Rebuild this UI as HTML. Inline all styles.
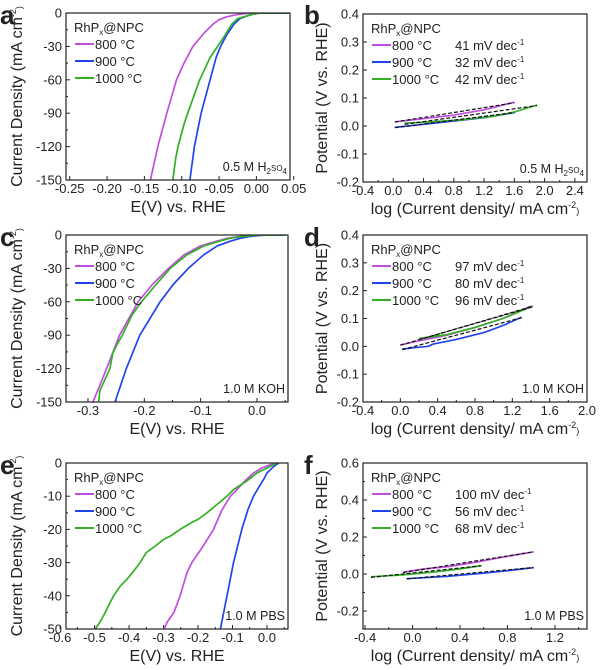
<!DOCTYPE html>
<html><head><meta charset="utf-8"><style>
html,body{margin:0;padding:0;background:#fff}
svg{display:block;font-family:"Liberation Sans",Arial,sans-serif}
</style></head><body>
<svg id="fig" width="600" height="670" viewBox="0 0 600 670" xmlns="http://www.w3.org/2000/svg"></svg>
<script>
// ---------- DATA ----------
const seriesNames = ['800 °C', '900 °C', '1000 °C'];
// Panel a: LSV in 0.5 M H2SO4 (E in V, j in mA cm-2)
const aE800 = [0.045, -0.005, -0.015, -0.022, -0.03, -0.04, -0.05, -0.058, -0.07, -0.085, -0.097, -0.107, -0.12, -0.132, -0.142];
const aJ800 = [0, 0, -0.5, -1, -2, -3.5, -6, -10, -18, -30, -45, -60, -90, -120, -150];
const aE900 = [0.045, 0.005, -0.004, -0.012, -0.022, -0.03, -0.04, -0.048, -0.054, -0.062, -0.074, -0.083, -0.089];
const aJ900 = [0, 0, -1, -2.5, -5, -10, -20, -30, -40, -60, -90, -120, -150];
const aE1000 = [0.045, 0.005, -0.004, -0.012, -0.025, -0.033, -0.042, -0.052, -0.062, -0.076, -0.092, -0.097, -0.105, -0.108, -0.112];
const aJ1000 = [0, 0, -1, -2.5, -5, -10, -20, -30, -40, -60, -90, -100, -120, -130, -150];
// Panel c: LSV in 1.0 M KOH
const cE800 = [0.05, 0.0, -0.02, -0.04, -0.053, -0.075, -0.101, -0.13, -0.157, -0.185, -0.211, -0.244, -0.267, -0.291];
const cJ800 = [0, 0, -0.7, -2, -3, -6, -10, -18, -30, -44, -60, -90, -120, -150];
const cE900 = [0.05, 0.015, 0.0, -0.015, -0.03, -0.05, -0.071, -0.095, -0.122, -0.148, -0.172, -0.208, -0.232, -0.252];
const cJ900 = [0, 0, -0.6, -1.5, -3, -6, -10, -18, -30, -44, -60, -90, -120, -150];
const cE1000 = [0.05, 0.005, -0.02, -0.035, -0.048, -0.07, -0.095, -0.125, -0.154, -0.18, -0.205, -0.222, -0.239, -0.248, -0.256, -0.261, -0.272, -0.279, -0.281];
const cJ1000 = [0, 0, -1, -2, -3, -6, -10, -18, -30, -45, -60, -72, -90, -98, -106, -120, -132, -140, -150];
// Panel e: LSV in 1.0 M PBS
const eE800 = [0.03, 0.01, -0.015, -0.039, -0.065, -0.087, -0.106, -0.13, -0.155, -0.185, -0.218, -0.232, -0.252, -0.27, -0.29, -0.298];
const eJ800 = [0, -0.5, -1.5, -3, -5.5, -8, -10, -14, -20, -25, -30, -33, -40, -45, -48, -50];
const eE900 = [0.034, 0.02, 0.0, -0.01, -0.025, -0.039, -0.055, -0.073, -0.097, -0.116, -0.135];
const eJ900 = [0, -1, -3, -5, -7.5, -10, -14, -20, -30, -40, -50];
const eE1000 = [0.029, 0.0, -0.029, -0.06, -0.097, -0.116, -0.145, -0.174, -0.2, -0.22, -0.252, -0.28, -0.3, -0.324, -0.35, -0.368, -0.39, -0.406, -0.425, -0.445, -0.46, -0.469, -0.485, -0.498];
const eJ1000 = [0, -1.5, -3, -5.5, -8, -10, -12.5, -15, -17, -18, -20, -22, -23, -25, -27, -30, -33, -35, -37, -40, -43, -45, -48, -50];
// Panel b: Tafel in H2SO4 (log j, potential)
const bX800 = [0.02, 0.4, 0.8, 1.2, 1.6];
const bY800 = [0.015, 0.026, 0.039, 0.058, 0.085];
const bX900 = [0.02, 0.4, 0.8, 1.2, 1.6];
const bY900 = [-0.005, 0.006, 0.018, 0.03, 0.048];
const bX1000 = [0.15, 0.5, 0.9, 1.3, 1.6, 1.9];
const bY1000 = [0.01, 0.015, 0.022, 0.034, 0.05, 0.075];
const bFitX = [[0.02, 1.6], [0.02, 1.6], [0.15, 1.9]];
const bFitY = [[0.014, 0.083], [-0.006, 0.048], [0.006, 0.073]];
const bSlopes = ['41', '32', '42'];
// Panel d: Tafel in KOH
const dX800 = [0.0, 0.2, 0.5, 0.8, 1.1, 1.4];
const dY800 = [0.005, 0.02, 0.04, 0.068, 0.1, 0.145];
const dX900 = [0.02, 0.15, 0.3, 0.35, 0.6, 0.9, 1.1, 1.3];
const dY900 = [-0.01, -0.005, 0.0, 0.008, 0.025, 0.05, 0.075, 0.105];
const dX1000 = [0.2, 0.5, 0.8, 1.1, 1.42];
const dY1000 = [0.028, 0.042, 0.068, 0.1, 0.145];
const dFitX = [[0.0, 1.4], [0.02, 1.3], [0.2, 1.42]];
const dFitY = [[0.004, 0.142], [-0.012, 0.103], [0.024, 0.142]];
const dSlopes = ['97', '80', '96'];
// Panel f: Tafel in PBS
const fX800 = [-0.08, 0.1, 0.3, 0.5, 0.75, 1.02];
const fY800 = [0.01, 0.028, 0.04, 0.06, 0.09, 0.12];
const fX900 = [-0.05, 0.3, 0.6, 0.8, 1.02];
const fY900 = [-0.025, -0.012, 0.005, 0.018, 0.035];
const fX1000 = [-0.35, -0.1, 0.0, 0.2, 0.4, 0.58];
const fY1000 = [-0.015, -0.005, 0.0, 0.012, 0.028, 0.045];
const fFitX = [[-0.08, 1.02], [-0.05, 1.02], [-0.35, 0.58]];
const fFitY = [[0.008, 0.12], [-0.026, 0.035], [-0.018, 0.045]];
const fSlopes = ['100', '56', '68'];

const colors = ['#c24ee0', '#2244ee', '#33b024'];
const NS = 'http://www.w3.org/2000/svg';
const svg = document.getElementById('fig');

function mk(tag, attrs, parent) {
  const el = document.createElementNS(NS, tag);
  for (const k in attrs) el.setAttribute(k, attrs[k]);
  (parent || svg).appendChild(el);
  return el;
}
function txt(parent, x, y, s, size, anchor) {
  const t = mk('text', {x: x, y: y, 'font-size': size, 'text-anchor': anchor || 'start', fill: '#222'}, parent);
  t.textContent = s;
  return t;
}
function tspan(t, s, opts) {
  const ts = document.createElementNS(NS, 'tspan');
  for (const k in (opts || {})) ts.setAttribute(k, opts[k]);
  ts.textContent = s;
  t.appendChild(ts);
  return ts;
}

function panel(cfg) {
  const g = mk('g', {});
  
  
  const L = cfg.box[0], T = cfg.box[1], R = cfg.box[2], B = cfg.box[3];
  const sx = v => L + (v - cfg.x[0]) / (cfg.x[1] - cfg.x[0]) * (R - L);
  const sy = v => B - (v - cfg.y[0]) / (cfg.y[1] - cfg.y[0]) * (B - T);
  const pl = txt(g, cfg.letterX, cfg.letterY, cfg.id, 26, 'start');
  pl.setAttribute('font-weight', 'bold');
  
  
  const cp = mk('clipPath', {id: 'clip-' + cfg.id}, g);
  mk('rect', {x: L, y: T, width: R - L, height: B - T}, cp);
  const xt = mk('g', {}, g);
  
  
  cfg.xticks.forEach(v => {
    const x = sx(v);
    mk('line', {x1: x, x2: x, y1: B, y2: B - 4, stroke: '#222', 'stroke-width': 1}, xt);
    txt(xt, x, B + 13, cfg.xfmt(v), 13, 'middle');
  });
  (cfg.xminor || []).forEach(v => {
    mk('line', {x1: sx(v), x2: sx(v), y1: B, y2: B - 2, stroke: '#222', 'stroke-width': 1}, xt);
  });
  const yt = mk('g', {}, g);
  
  
  cfg.yticks.forEach(v => {
    const y = sy(v);
    mk('line', {x1: L, x2: L + 4, y1: y, y2: y, stroke: '#222', 'stroke-width': 1}, yt);
    txt(yt, L - 4, y + 4.5, cfg.yfmt(v), 13, 'end');
  });
  (cfg.yminor || []).forEach(v => {
    mk('line', {x1: L, x2: L + 2, y1: sy(v), y2: sy(v), stroke: '#222', 'stroke-width': 1}, yt);
  });
  const sg = mk('g', {'clip-path': 'url(#clip-' + cfg.id + ')'}, g);
  cfg.series.forEach((s, i) => {
    const d = s[0].map((v, k) => (k ? 'L' : 'M') + sx(v).toFixed(1) + ',' + sy(s[1][k]).toFixed(1)).join('');
    const p = mk('path', {d: d, fill: 'none', stroke: colors[i], 'stroke-width': 1.7, 'stroke-linejoin': 'round'}, sg);
    
    
  });
  if (cfg.fitX) {
    cfg.fitX.forEach((fx, i) => {
      const p = mk('line', {x1: sx(fx[0]), y1: sy(cfg.fitY[i][0]), x2: sx(fx[1]), y2: sy(cfg.fitY[i][1]), stroke: '#111', 'stroke-width': 1.2, 'stroke-dasharray': '4,2'}, sg);
      
      
    });
  }
  const fr = mk('rect', {x: L, y: T, width: R - L, height: B - T, fill: 'none', stroke: '#222', 'stroke-width': 1.2}, g);
  
  
  const lg = mk('g', {}, g);
  
  
  const lt = txt(lg, L + 8, T + 19, 'RhP', 13);
  tspan(lt, 'x', {'font-size': 8, dy: 3});
  tspan(lt, '@NPC', {dy: -3});
  seriesNames.forEach((n, i) => {
    const y = T + 31 + i * 17;
    mk('line', {x1: L + 9, x2: L + 28, y1: y, y2: y, stroke: colors[i], 'stroke-width': 2}, lg);
    const e = txt(lg, L + 29, y + 5, n, 13);
    
    
    if (cfg.slopes) {
      const st = txt(lg, L + 92, y + 5, cfg.slopes[i] + ' mV dec', 13);
      tspan(st, '-1', {'font-size': 8, dy: -5});
    }
  });
  const el = txt(g, R - 3, B - 9, '', 12.5, 'end');
  
  
  cfg.elec.forEach(p => tspan(el, p[0], p[1] ? {'font-size': 8, dy: p[1]} : {}));
  const xa = txt(g, (L + R) / 2, B + 32, '', 16, 'middle');
  
  
  cfg.xtitle.forEach(p => tspan(xa, p[0], p[1] ? {'font-size': 9, dy: p[1]} : {}));
  const cy = (T + B) / 2;
  const ya = txt(g, 0, 0, '', 16, 'middle');
  ya.setAttribute('transform', 'translate(' + cfg.ytx + ',' + cy + ') rotate(-90)');
  
  
  cfg.ytitle.forEach(p => tspan(ya, p[0], p[1] ? {'font-size': 9, dy: p[1]} : {}));
}

const f2 = v => v.toFixed(2);
const f1 = v => v.toFixed(1);
const f0 = v => v.toFixed(0);
const yTitleJ = [['Current Density (mA cm'], ['-2', -6], [')', 6]];
const yTitleP = [['Potential (V vs. RHE)']];
const xTitleE = [['E(V) vs. RHE']];
const xTitleL = [['log (Current density/ mA cm'], ['-2', -6], [')', 6]];
const range = (a, b, s) => { const r = []; for (let v = a; v <= b + 1e-9; v += s) r.push(+v.toFixed(4)); return r; };

panel({id: 'a', box: [66, 13, 290, 180], x: [-0.255, 0.045], y: [-150, 0], letterX: 0, letterY: 24,
  xticks: range(-0.25, 0.05, 0.05), xfmt: f2, yticks: range(-150, 0, 30), yfmt: f0, yminor: range(-135, -15, 30),
  series: [[aE800, aJ800], [aE900, aJ900], [aE1000, aJ1000]],
  elec: [['0.5 M H'], ['2', 3], ['SO', -3], ['4', 3]], xtitle: xTitleE, ytitle: yTitleJ, ytx: 22});
panel({id: 'b', box: [363, 14, 587, 182], x: [-0.4, 2.56], y: [-0.2, 0.4], letterX: 304, letterY: 24,
  xticks: range(-0.4, 2.4, 0.4), xfmt: f1, xminor: range(-0.2, 2.2, 0.4), yticks: range(-0.2, 0.4, 0.1), yfmt: f1,
  series: [[bX800, bY800], [bX900, bY900], [bX1000, bY1000]], fitX: bFitX, fitY: bFitY, slopes: bSlopes,
  elec: [['0.5 M H'], ['2', 3], ['SO', -3], ['4', 3]], xtitle: xTitleL, ytitle: yTitleP, ytx: 327});
panel({id: 'c', box: [66, 235, 288, 402], x: [-0.339, 0.055], y: [-150, 0], letterX: 0, letterY: 246,
  xticks: range(-0.3, 0.0, 0.1), xfmt: f1, xminor: range(-0.25, 0.05, 0.1), yticks: range(-150, 0, 30), yfmt: f0, yminor: range(-135, -15, 30),
  series: [[cE800, cJ800], [cE900, cJ900], [cE1000, cJ1000]],
  elec: [['1.0 M KOH']], xtitle: xTitleE, ytitle: yTitleJ, ytx: 22});
panel({id: 'd', box: [363, 235, 587, 402], x: [-0.4, 2.0], y: [-0.2, 0.4], letterX: 304, letterY: 246,
  xticks: range(-0.4, 2.0, 0.4), xfmt: f1, xminor: range(-0.2, 1.8, 0.4), yticks: range(-0.2, 0.4, 0.1), yfmt: f1,
  series: [[dX800, dY800], [dX900, dY900], [dX1000, dY1000]], fitX: dFitX, fitY: dFitY, slopes: dSlopes,
  elec: [['1.0 M KOH']], xtitle: xTitleL, ytitle: yTitleP, ytx: 327});
panel({id: 'e', box: [66, 463, 288, 629], x: [-0.583, 0.061], y: [-50, 0], letterX: 0, letterY: 474,
  xticks: range(-0.6, 0.0, 0.1), xfmt: f1, xminor: range(-0.55, 0.05, 0.1), yticks: range(-50, 0, 10), yfmt: f0, yminor: range(-45, -5, 10),
  series: [[eE800, eJ800], [eE900, eJ900], [eE1000, eJ1000]],
  elec: [['1.0 M PBS']], xtitle: xTitleE, ytitle: yTitleJ, ytx: 22});
panel({id: 'f', box: [363, 463, 587, 629], x: [-0.417, 1.47], y: [-0.297, 0.6], letterX: 304, letterY: 474,
  xticks: range(-0.4, 1.2, 0.4), xfmt: f1, xminor: range(-0.2, 1.4, 0.4), yticks: range(-0.2, 0.6, 0.2), yfmt: f1, yminor: range(-0.1, 0.5, 0.2),
  series: [[fX800, fY800], [fX900, fY900], [fX1000, fY1000]], fitX: fFitX, fitY: fFitY, slopes: fSlopes,
  elec: [['1.0 M PBS']], xtitle: xTitleL, ytitle: yTitleP, ytx: 327});
</script>
</body></html>
